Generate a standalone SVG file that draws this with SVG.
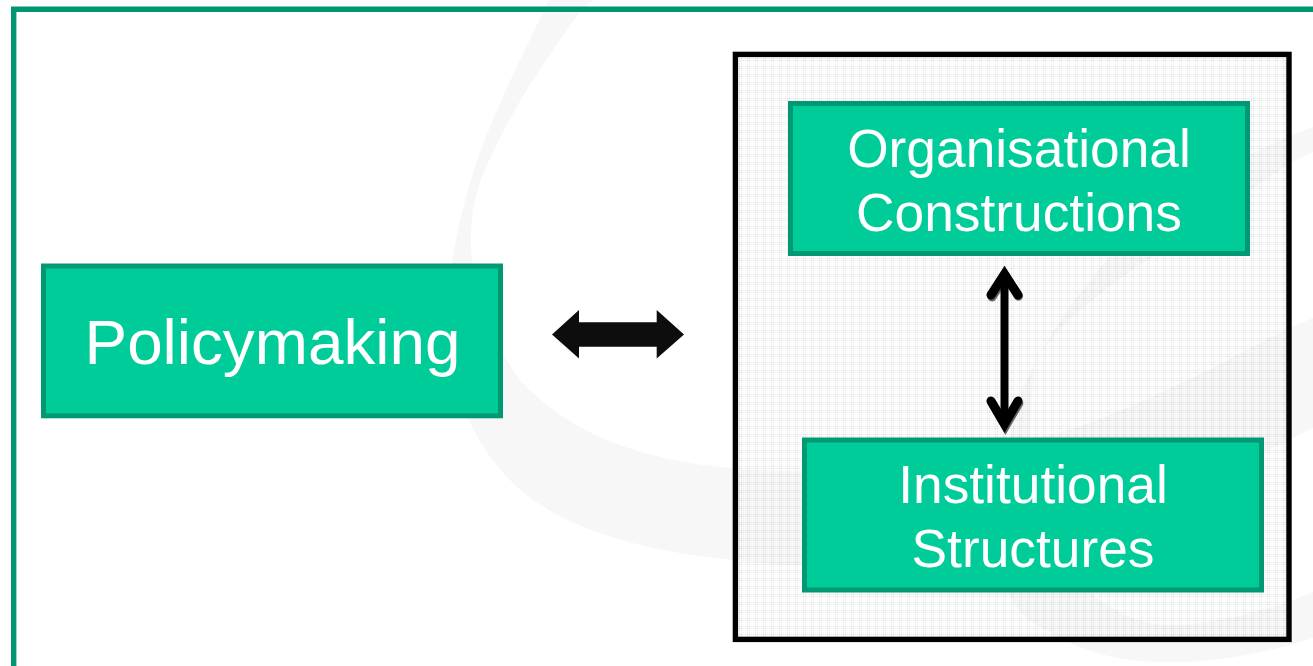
<svg xmlns="http://www.w3.org/2000/svg" width="1313" height="666" viewBox="0 0 1313 666">
  <style>
    .box { fill: #00CC99; stroke: #009973; stroke-width: 5; }
    .lbl { font-family: "Liberation Sans", Arial, sans-serif; fill: #ffffff; text-anchor: middle; }
    .sw { fill: #f7f7f7; }
    .vline { fill: none; stroke: #000; stroke-width: 9; stroke-linecap: round; stroke-linejoin: miter; stroke-miterlimit: 10; }
    .vshadow { fill: none; stroke: #666; stroke-width: 9; stroke-linecap: round; stroke-linejoin: miter; stroke-dasharray: 1 1; }
  </style>
  <defs>
    <pattern id="grid" width="8" height="8" patternUnits="userSpaceOnUse" x="738" y="57">
      <rect x="0" y="0" width="8" height="8" fill="#ffffff" fill-opacity="0.2"/>
      <rect x="1" y="0" width="1" height="8" fill="#000" fill-opacity="0.055"/>
      <rect x="3" y="0" width="1" height="8" fill="#000" fill-opacity="0.055"/>
      <rect x="0" y="1" width="8" height="1" fill="#000" fill-opacity="0.055"/>
      <rect x="0" y="3" width="8" height="1" fill="#000" fill-opacity="0.055"/>
      <rect x="5" y="5" width="1" height="1" fill="#000" fill-opacity="0.04"/>
      <rect x="7" y="7" width="1" height="1" fill="#000" fill-opacity="0.04"/>
      <rect x="5" y="7" width="1" height="1" fill="#000" fill-opacity="0.04"/>
      <rect x="7" y="5" width="1" height="1" fill="#000" fill-opacity="0.04"/>
    </pattern>
  </defs>

  <rect width="1313" height="666" fill="#ffffff"/>

  <g id="background-swooshes">
    <path class="sw" d="M549,0 C515,70 488,125 473,173 C462,210 455,240 452,263 C448,320 452,380 468,418 C482,450 505,480 533,500 C580,533 650,552 733,560 C800,567 860,570 900,565 C980,556 1040,545 1100,520 C1180,490 1250,460 1313,428 L1313,318 C1270,335 1235,358 1194,377 C1160,393 1125,410 1089,423 C1060,434 1030,440 1000,445 C950,457 900,466 850,470 C810,472 770,472 733,468 C690,465 640,455 600,437 C570,424 540,402 520,380 C495,345 478,305 472,263 C470,240 471,225 473,210 C475,198 478,188 482,177 C510,110 545,60 580,12 L594,0 Z"/>
    <path class="sw" d="M1313,127 C1290,136 1260,148 1230,165 C1185,190 1145,220 1110,257 C1075,295 1045,340 1022,390 C1010,430 1003,470 1003,510 C1003,545 1005,575 1009,595 C1018,612 1030,622 1042,628 L1068,642 C1095,655 1130,662 1160,662 C1215,664 1270,652 1313,638 L1313,592 C1270,610 1225,622 1180,625 C1150,627 1125,618 1100,600 C1075,582 1052,560 1040,530 C1030,500 1027,470 1030,450 C1030,420 1032,385 1036,360 C1062,320 1105,288 1152,257 C1200,225 1250,190 1292,162 L1313,152 Z"/>
  </g>

  <path id="slide-frame" d="M13.7,666 L13.7,9.3 L1313,9.3" fill="none" stroke="#009670" stroke-width="5.4"/>

  <g id="container">
    <rect x="735.4" y="54.4" width="553.6" height="585" fill="url(#grid)" stroke="#000000" stroke-width="5.4"/>
  </g>

  <g id="policymaking">
    <rect class="box" x="43.5" y="266" width="457" height="149.800"/>
    <text class="lbl" x="272.500" y="364" font-size="63.800">Policymaking</text>
  </g>

  <g id="organisational-constructions">
    <rect class="box" x="790.500" y="103.500" width="457" height="150"/>
    <text class="lbl" x="1019" y="167" font-size="53.300">Organisational</text>
    <text class="lbl" x="1019" y="231" font-size="53.300">Constructions</text>
  </g>

  <g id="institutional-structures">
    <rect class="box" x="804.500" y="440" width="457" height="150"/>
    <text class="lbl" x="1033" y="503" font-size="53.300">Institutional</text>
    <text class="lbl" x="1033" y="567" font-size="53.300">Structures</text>
  </g>

  <g id="connectors">
    <polygon points="552,334.500 579,310 579,322.300 656.700,322.300 656.700,310 684,334.500 656.700,358.500 656.700,346.700 579,346.700 579,358.500" fill="#0d0d0d"/>
    <g id="vertical-arrow">
      <g transform="translate(1,2)">
        <path class="vshadow" d="M991,295 L1004.500,274 L1018,295"/>
        <path class="vshadow" d="M991,401 L1004.500,424 L1018,401"/>
      </g>
      <line x1="1004.500" y1="273" x2="1004.500" y2="425" stroke="#000" stroke-width="8"/>
      <path class="vline" d="M991,295 L1004.500,274 L1018,295"/>
      <path class="vline" d="M991,401 L1004.500,424 L1018,401"/>
    </g>
  </g>
</svg>
